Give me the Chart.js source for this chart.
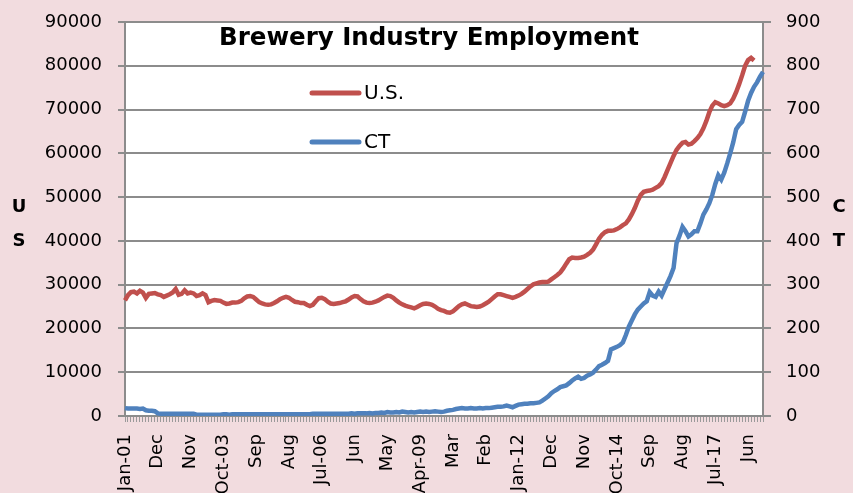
<!DOCTYPE html>
<html>
<head>
<meta charset="utf-8">
<script src="https://cdn.jsdelivr.net/npm/chart.js@4.4.1/dist/chart.umd.min.js"></script>
<style>
  html, body { margin: 0; padding: 0; background: #f2dcdf; }
  #wrap { position: relative; width: 853px; height: 493px; }
</style>
</head>
<body>
<div id="wrap"><canvas id="chart"></canvas></div>
<script>
const years = [2001, 2002, 2003, 2004, 2005, 2006, 2007, 2008, 2009, 2010, 2011, 2012, 2013, 2014, 2015, 2016, 2017, 2018];
const monthNames = ['Jan', 'Feb', 'Mar', 'Apr', 'May', 'Jun', 'Jul', 'Aug', 'Sep', 'Oct', 'Nov', 'Dec'];
const lastMonth2018 = 11; // data runs through Nov 2018

// shown every 11th month, as on the original axis
const tickLabels = ['Jan-01', 'Dec', 'Nov', 'Oct-03', 'Sep', 'Aug', 'Jul-06', 'Jun', 'May', 'Apr-09',
  'Mar', 'Feb', 'Jan-12', 'Dec', 'Nov', 'Oct-14', 'Sep', 'Aug', 'Jul-17', 'Jun'];

// U.S. brewery employment, one value per month
const usEmployment = [
  26400, 27600, 28300, 28400, 28000, 28600, 28200, 27000, 27900, 28000, 28100, 27800, // 2001
  27600, 27200, 27500, 27800, 28200, 29000, 27700, 27900, 28700, 28000, 28200, 28000, // 2002
  27400, 27600, 28000, 27600, 26000, 26300, 26500, 26400, 26300, 25900, 25600, 25700, // 2003
  25900, 25900, 26000, 26300, 26900, 27300, 27400, 27200, 26600, 26000, 25700, 25500, // 2004
  25400, 25500, 25800, 26200, 26700, 27000, 27200, 27000, 26500, 26100, 26000, 25800, // 2005
  25800, 25400, 25100, 25400, 26200, 26900, 27000, 26700, 26100, 25700, 25600, 25700, // 2006
  25800, 26000, 26200, 26600, 27100, 27400, 27300, 26700, 26200, 25900, 25800, 25900, // 2007
  26100, 26400, 26800, 27200, 27500, 27400, 27000, 26400, 25900, 25500, 25200, 25000, // 2008
  24800, 24600, 24900, 25300, 25600, 25700, 25600, 25400, 25000, 24500, 24200, 24000, // 2009
  23700, 23600, 23900, 24500, 25100, 25500, 25700, 25400, 25100, 25000, 24900, 25000, // 2010
  25300, 25700, 26100, 26700, 27300, 27800, 27800, 27600, 27400, 27200, 27000, 27200, // 2011
  27500, 27900, 28400, 29000, 29600, 30100, 30300, 30500, 30600, 30600, 30700, 31200, // 2012
  31700, 32200, 32800, 33700, 34800, 35800, 36200, 36100, 36100, 36200, 36400, 36800, // 2013
  37300, 38000, 39200, 40500, 41400, 42000, 42300, 42300, 42400, 42700, 43100, 43600, // 2014
  44000, 44900, 46100, 47500, 49200, 50500, 51200, 51400, 51500, 51700, 52100, 52500, // 2015
  53200, 54600, 56200, 57800, 59400, 60800, 61700, 62400, 62600, 62000, 62200, 62800, // 2016
  63500, 64400, 65700, 67400, 69400, 70900, 71700, 71400, 71000, 70800, 71000, 71400, // 2017
  72500, 74000, 75800, 77800, 80000, 81300, 81800, 81200, null, null, null             // 2018
];

// Connecticut brewery employment, one value per month
const ctEmployment = [
  18, 17, 17, 17, 17, 16, 17, 13, 12, 12, 11, 6,            // 2001
  5, 5, 5, 5, 5, 5, 5, 5, 5, 5, 5, 5,                      // 2002
  3, 3, 3, 3, 3, 3, 3, 3, 3, 4, 4, 3,                      // 2003
  4, 4, 4, 4, 4, 4, 4, 4, 4, 4, 4, 4,                      // 2004
  4, 4, 4, 4, 4, 4, 4, 4, 4, 4, 4, 4,                      // 2005
  4, 4, 4, 5, 5, 5, 5, 5, 5, 5, 5, 5,                      // 2006
  5, 5, 5, 5, 6, 5, 6, 6, 6, 6, 7, 6,                      // 2007
  7, 7, 8, 7, 9, 8, 8, 9, 8, 10, 9, 8,                     // 2008
  9, 8, 9, 10, 9, 10, 9, 10, 11, 10, 9, 10,                // 2009
  12, 13, 14, 16, 17, 18, 17, 17, 18, 17, 17, 18,          // 2010
  17, 18, 18, 19, 20, 21, 21, 22, 24, 22, 20, 23,          // 2011
  26, 27, 28, 28, 29, 29, 30, 31, 35, 40, 45, 52,          // 2012
  57, 61, 66, 68, 70, 75, 81, 86, 90, 85, 87, 92,          // 2013
  95, 99, 106, 114, 117, 121, 126, 152, 155, 158, 162, 168, // 2014
  185, 204, 218, 232, 243, 250, 257, 262, 283, 275, 272, 284, // 2015
  275, 290, 305, 320, 338, 395, 412, 432, 422, 410, 415, 422, // 2016
  422, 440, 460, 472, 486, 505, 530, 550, 540, 556, 577, 600, // 2017
  625, 655, 665, 672, 695, 720, 738, 752, 762, 775, 786       // 2018
];

const categories = [];
years.forEach(year => {
  const count = year === 2018 ? lastMonth2018 : 12;
  for (let m = 0; m < count; m += 1) {
    categories.push(`${monthNames[m]}-${String(year).slice(2)}`);
  }
});

const gridColor = '#8c8c8c';
const font = '"DejaVu Sans", sans-serif';

// fixed axis sizes so the plot box sits where it does in the original
function fixWidth(width) {
  return scale => {
    scale.width = width;
    scale.paddingTop = 0;
    scale.paddingBottom = 0;
  };
}

const decorations = {
  id: 'decorations',
  beforeDraw(chart) {
    const { ctx, chartArea } = chart;
    ctx.save();
    ctx.fillStyle = '#f2dcdf';
    ctx.fillRect(0, 0, chart.width, chart.height);
    ctx.fillStyle = '#ffffff';
    ctx.fillRect(chartArea.left, chartArea.top, chartArea.right - chartArea.left, chartArea.bottom - chartArea.top);
    ctx.restore();
  },
  afterDraw(chart) {
    const { ctx } = chart;
    ctx.save();
    ctx.fillStyle = '#000';
    ctx.textAlign = 'center';
    ctx.textBaseline = 'alphabetic';
    ctx.font = `bold 24.5px ${font}`;
    ctx.fillText('Brewery Industry Employment', 429, 45);

    // legend inside the plot
    const items = [
      { text: 'U.S.', color: '#c0504d', y: 93 },
      { text: 'CT', color: '#4f81bd', y: 142 },
    ];
    ctx.lineCap = 'round';
    ctx.lineWidth = 5;
    ctx.font = `20px ${font}`;
    ctx.textAlign = 'left';
    ctx.textBaseline = 'middle';
    items.forEach(item => {
      ctx.strokeStyle = item.color;
      ctx.beginPath();
      ctx.moveTo(312, item.y);
      ctx.lineTo(359, item.y);
      ctx.stroke();
      ctx.fillText(item.text, 364, item.y + 1);
    });

    // stacked axis titles
    ctx.font = `bold 18px ${font}`;
    ctx.textAlign = 'center';
    ctx.fillText('U', 19, 207);
    ctx.fillText('S', 19, 241);
    ctx.fillText('C', 839, 207);
    ctx.fillText('T', 839, 241);
    ctx.restore();
  },
};

const chart = new Chart(document.getElementById('chart'), {
  type: 'line',
  data: {
    labels: categories,
    datasets: [
      {
        label: 'U.S.',
        data: usEmployment,
        borderColor: '#c0504d',
        borderWidth: 4.5,
        pointRadius: 0,
        tension: 0,
        yAxisID: 'y',
      },
      {
        label: 'CT',
        data: ctEmployment,
        borderColor: '#4f81bd',
        borderWidth: 4.5,
        pointRadius: 0,
        tension: 0,
        yAxisID: 'y1',
      },
    ],
  },
  options: {
    responsive: true,
    maintainAspectRatio: false,
    animation: false,
    layout: { padding: { top: 22, left: 0, right: 0, bottom: 0 } },
    plugins: {
      legend: { display: false },
      tooltip: { enabled: false },
    },
    scales: {
      x: {
        offset: false,
        grid: { drawOnChartArea: false, drawTicks: true, tickLength: 6, color: '#9a9a9a', lineWidth: 1 },
        border: { color: gridColor, width: 2 },
        ticks: {
          autoSkip: false,
          minRotation: 90,
          maxRotation: 90,
          padding: 12,
          color: '#000',
          font: { family: font, size: 18 },
          callback: (value, index) => (index % 11 === 0 ? tickLabels[index / 11] : ''),
        },
        afterFit: scale => { scale.height = 77; },
      },
      y: {
        position: 'left',
        min: 0,
        max: 90000,
        grid: { color: gridColor, lineWidth: 2, tickLength: 7 },
        border: { color: gridColor, width: 2 },
        ticks: {
          stepSize: 10000,
          padding: 16,
          color: '#000',
          font: { family: font, size: 18 },
          callback: value => String(value),
        },
        afterFit: fixWidth(125),
      },
      y1: {
        position: 'right',
        min: 0,
        max: 900,
        grid: { drawOnChartArea: false, color: gridColor, lineWidth: 2, tickLength: 8 },
        border: { color: gridColor, width: 2 },
        ticks: {
          stepSize: 100,
          padding: 15,
          color: '#000',
          font: { family: font, size: 18 },
          callback: value => String(value),
        },
        afterFit: fixWidth(90),
      },
    },
  },
  plugins: [decorations],
});
</script>
</body>
</html>
